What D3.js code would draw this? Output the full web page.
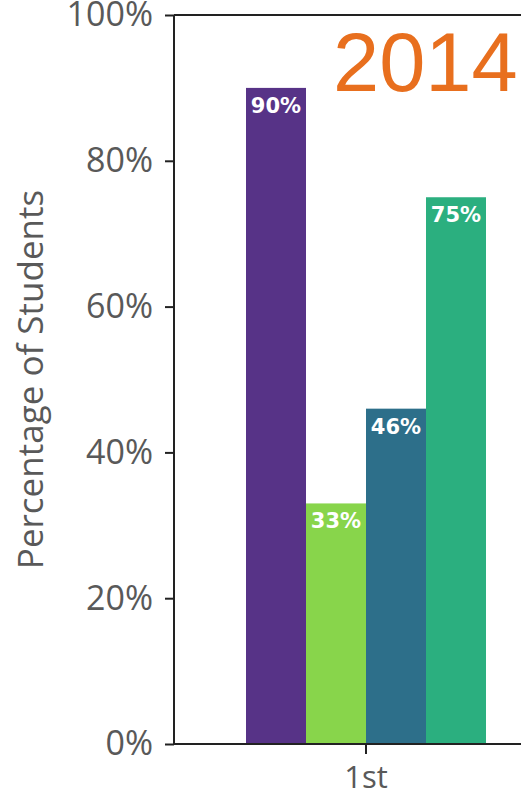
<!DOCTYPE html>
<html>
<head>
<meta charset="utf-8">
<script src="https://cdn.jsdelivr.net/npm/d3@7"></script>
<style>
  html, body { margin: 0; padding: 0; background: #fff; }
  svg { display: block; }
</style>
</head>
<body>
<svg id="chart" width="521" height="797"></svg>
<script>
// Grade categories along the x axis
const categories = ["1st"];
// One value per series for each grade (fraction of students)
const seriesKeys = ["s1", "s2", "s3", "s4"];
const seriesColors = ["#573387", "#88d54b", "#2d6f8a", "#2baf7f"];
const values = {
  s1: [0.90],
  s2: [0.33],
  s3: [0.46],
  s4: [0.75]
};
const yTicks = [0, 0.2, 0.4, 0.6, 0.8, 1.0];
const yearLabel = "2014";
const yTitle = "Percentage of Students";

const svg = d3.select("#chart");
const plotLeft = 174, plotTop = 15, plotBottom = 744, plotRight = 558;

const y = d3.scaleLinear().domain([0, 1]).range([plotBottom, plotTop]);
const x = d3.scaleBand().domain(categories).range([plotLeft, plotRight])
  .paddingInner(0).paddingOuter(0.3);
const xs = d3.scaleBand().domain(seriesKeys).range([0, x.bandwidth()]);

const textGray = "#595959";

// Bars
const rows = categories.map((c, i) => ({
  cat: c,
  items: seriesKeys.map((k, j) => ({ key: k, v: values[k][i], color: seriesColors[j] }))
}));

const groups = svg.append("g").selectAll("g").data(rows).join("g")
  .attr("transform", d => `translate(${x(d.cat)},0)`);

groups.selectAll("rect").data(d => d.items).join("rect")
  .attr("x", d => xs(d.key))
  .attr("y", d => y(d.v))
  .attr("width", xs.bandwidth())
  .attr("height", d => y(0) - y(d.v))
  .attr("fill", d => d.color);

groups.selectAll("text").data(d => d.items).join("text")
  .attr("x", d => xs(d.key) + xs.bandwidth() / 2)
  .attr("y", d => y(d.v) + 25)
  .attr("text-anchor", "middle")
  .attr("fill", "#fff")
  .style("font-family", "'DejaVu Sans', sans-serif")
  .style("font-weight", "bold")
  .style("font-size", "21px")
  .text(d => Math.round(d.v * 100) + "%");

// Y axis
const yAxis = svg.append("g").attr("transform", `translate(${plotLeft},0)`)
  .call(d3.axisLeft(y).tickValues(yTicks).tickFormat(d3.format(".0%")).tickSize(9).tickPadding(12));
yAxis.select(".domain").attr("stroke", "#222").attr("stroke-width", 2).attr("d", `M0,${plotTop}V${plotBottom}`);
yAxis.selectAll(".tick line").attr("stroke", "#222").attr("stroke-width", 2);
yAxis.selectAll(".tick text")
  .attr("fill", textGray)
  .style("font-family", "'Open Sans', sans-serif")
  .style("font-size", "34px");

// X axis
const xAxis = svg.append("g").attr("transform", `translate(0,${plotBottom})`)
  .call(d3.axisBottom(x).tickSize(10).tickPadding(12));
xAxis.select(".domain").attr("stroke", "#222").attr("stroke-width", 2).attr("d", `M${plotLeft},0H${plotRight + 200}`);
xAxis.selectAll(".tick line").attr("stroke", "#222").attr("stroke-width", 2);
xAxis.selectAll(".tick text")
  .attr("fill", textGray)
  .style("font-family", "'Open Sans', sans-serif")
  .style("font-size", "31px");

// Top frame line
svg.append("line")
  .attr("x1", plotLeft).attr("x2", plotRight + 200)
  .attr("y1", plotTop).attr("y2", plotTop)
  .attr("stroke", "#222").attr("stroke-width", 2);

// Y axis title
svg.append("text")
  .attr("transform", `translate(43,${(plotTop + plotBottom) / 2}) rotate(-90)`)
  .attr("text-anchor", "middle")
  .attr("fill", textGray)
  .style("font-family", "'Open Sans', sans-serif")
  .style("font-size", "35px")
  .text(yTitle);

// Year label
svg.append("text")
  .attr("x", 333)
  .attr("y", 91)
  .attr("fill", "#e86f1e")
  .style("font-family", "'Liberation Sans', Arial, sans-serif")
  .style("font-size", "83px")
  .text(yearLabel);
</script>
</body>
</html>
